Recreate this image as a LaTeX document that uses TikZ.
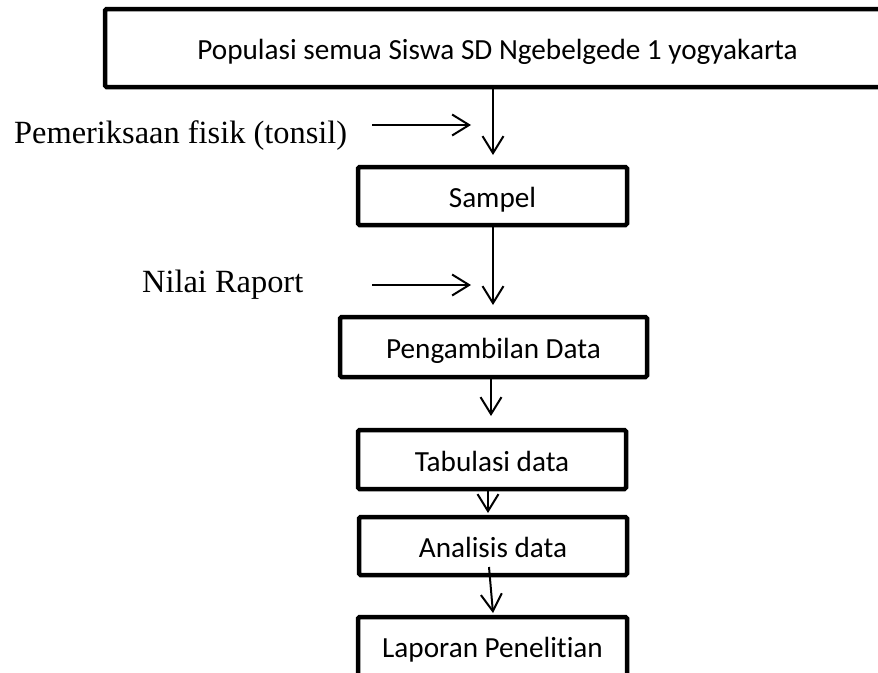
\documentclass[tikz,border=0pt]{standalone}
\usepackage{fontspec}
\setmainfont[Ligatures=NoCommon]{Liberation Serif}
\newfontfamily\boxfont[Ligatures=NoCommon]{Carlito}
\usetikzlibrary{arrows.meta}
\tikzset{
  flowbox/.style={draw, line width=4.5pt, rounded corners=1.5pt, inner sep=0pt,
    font=\boxfont\fontsize{29.2}{34}\selectfont, fill=white},
  arr/.style={line width=2pt, -{Straight Barb[length=17pt,width=21pt,line width=2pt]}},
  lbl/.style={font=\fontsize{32.4}{36}\selectfont, inner sep=0pt, anchor=base west}
}
\newcommand{\dn}[2][11pt]{\raisebox{-#1}[0pt][0pt]{#2}}
\begin{document}
\begin{tikzpicture}[x=1pt,y=-1pt]
\useasboundingbox (0,0) rectangle (878,672);
\fill[white] (0,0) rectangle (878,672);
\begin{scope}
\clip (0,0) rectangle (878,672);
\node[flowbox, minimum width=785pt, minimum height=78pt] (top) at (497.5,48) {\dn[11.5pt]{Populasi semua Siswa SD Ngebelgede 1 yogyakarta}};
\node[flowbox, minimum width=269pt, minimum height=58pt] (samp) at (492.5,196) {\dn{Sampel}};
\node[flowbox, minimum width=307pt, minimum height=60pt] (peng) at (493.5,347) {\dn[11.5pt]{Pengambilan Data}};
\node[flowbox, minimum width=268pt, minimum height=59pt] (tab) at (492,459.5) {\dn[11.5pt]{Tabulasi data}};
\node[flowbox, minimum width=268pt, minimum height=58pt] (ana) at (493,546) {\dn[11.5pt]{Analisis data}};
\node[flowbox, minimum width=269pt, minimum height=59pt] (lap) at (492.5,646.5) {\dn[10.5pt]{Laporan Penelitian}};

\node[lbl] (pem) at (14,143) {Pemeriksaan fisik (tonsil)};
\node[lbl] (nil) at (142,292) {Nilai Raport};

\coordinate (t1) at (493,155);
\coordinate (t2) at (493,305);
\coordinate (t3) at (491,416);
\coordinate (t4) at (488,513);
\coordinate (s5) at (489,567);
\coordinate (t5) at (493,613);
\coordinate (h1s) at (372,125);
\coordinate (h1e) at (471,125);
\coordinate (h2s) at (372,285);
\coordinate (h2e) at (471,285);

\draw[arr] (top.south -| t1) -- (t1);
\draw[arr] (samp.south -| t2) -- (t2);
\draw[arr] (peng.south -| t3) -- (t3);
\draw[arr] (tab.south -| t4) -- (t4);
\draw[arr] (s5) -- (t5);
\draw[arr] (h1s) -- (h1e);
\draw[arr] (h2s) -- (h2e);
\end{scope}
\end{tikzpicture}
\end{document}
